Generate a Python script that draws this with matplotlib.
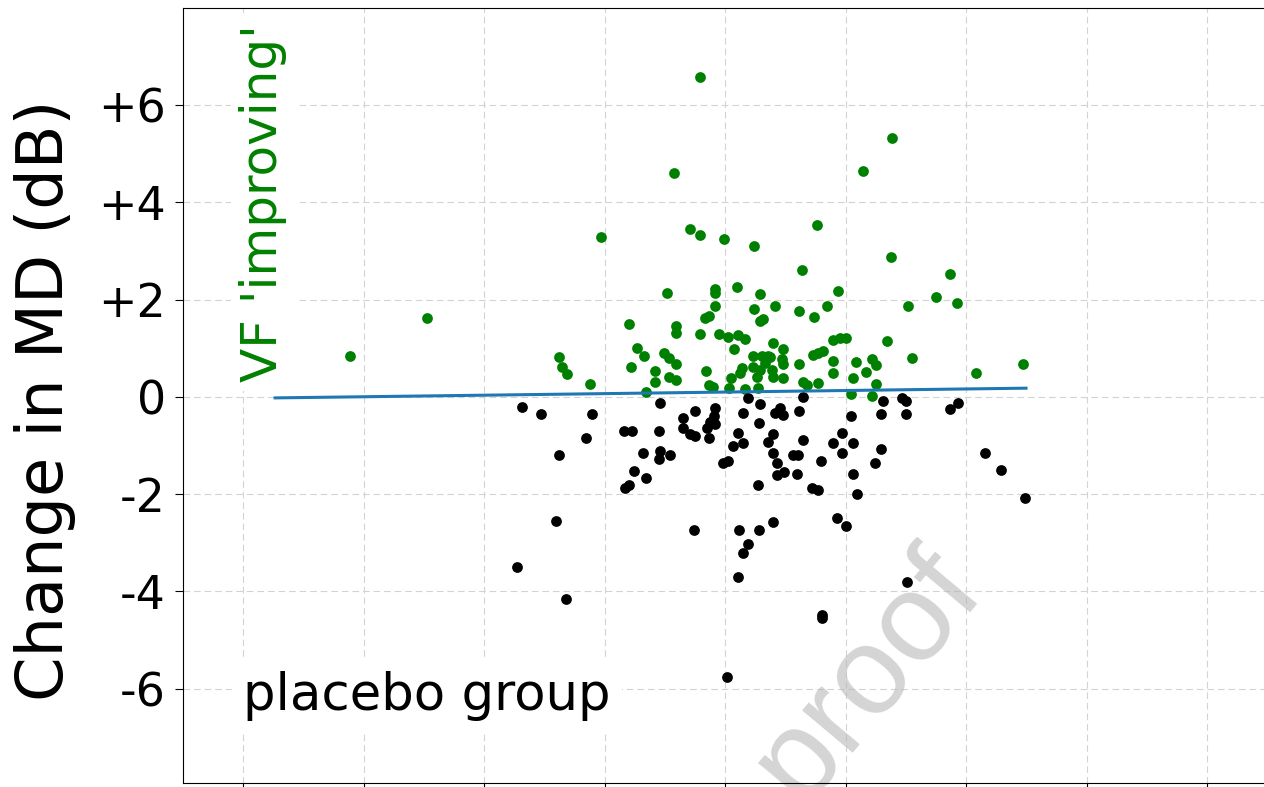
import numpy as np
import matplotlib
matplotlib.use("Agg")
import matplotlib.pyplot as plt

# change in MD for eyes that got better (green) - x, y
improving_x = [8.88, 15.27, 26.22, 26.47, 26.89, 28.80, 29.71, 32.03, 32.70, 33.28,
               32.20, 33.44, 34.19, 34.19, 34.94, 35.35, 35.93, 35.35, 35.93, 35.19,
               35.77, 35.93, 35.93, 37.10, 37.93, 37.93, 37.93, 38.42, 38.34, 38.67,
               38.67, 39.00, 39.17, 39.17, 39.17, 39.50, 39.92, 40.25, 41.08, 41.66,
               40.75, 41.00, 41.41, 41.24, 40.50, 40.33, 41.66, 42.41, 42.90, 42.41,
               44.15, 42.90, 43.15, 42.32, 43.07, 43.57, 42.32, 42.90, 43.32, 43.90,
               42.66, 43.98, 42.74, 43.98, 44.81, 44.73, 44.81, 43.73, 44.81, 46.14,
               46.39, 47.39, 47.63, 48.46, 49.38, 46.14, 46.47, 46.80, 47.72, 47.30,
               47.72, 48.13, 48.96, 49.54, 50.04, 48.96, 48.96, 50.46, 50.62, 50.87,
               51.45, 51.70, 52.20, 52.53, 52.20, 52.53, 53.44, 53.78, 53.86, 55.19,
               55.52, 57.51, 58.67, 59.25, 60.83, 64.73]
improving_y = [0.84, 1.62, 0.82, 0.62, 0.47, 0.27, 3.29, 1.50, 1.01, 0.84,
               0.62, 0.10, 0.53, 0.31, 0.90, 0.80, 0.68, 0.41, 0.35, 2.14,
               4.60, 1.46, 1.31, 3.45, 3.33, 6.59, 1.29, 0.53, 1.62, 1.66,
               0.25, 0.21, 2.22, 2.14, 1.87, 1.29, 3.24, 1.23, 1.27, 1.19,
               0.99, 2.26, 0.60, 0.49, 0.39, 0.18, 0.16, 3.10, 2.11, 1.81,
               1.87, 1.56, 1.60, 0.84, 0.84, 0.84, 0.62, 0.55, 0.70, 0.55,
               0.41, 0.41, 0.18, 1.11, 0.99, 0.78, 0.68, 0.82, 0.39, 1.77,
               2.61, 1.64, 3.53, 1.87, 2.18, 0.68, 0.31, 0.25, 0.29, 0.86,
               0.90, 0.94, 1.17, 1.21, 1.21, 0.74, 0.49, 0.06, 0.39, 0.72,
               4.64, 0.51, 0.78, 0.66, 0.02, 0.27, 1.15, 2.87, 5.32, 1.87,
               0.80, 2.05, 2.53, 1.93, 0.49, 0.68]

# eyes that got worse (black)
worsening_x = [23.15, 24.73, 28.96, 28.46, 26.22, 25.98, 22.74, 26.80, 34.61, 31.62,
               32.28, 34.52, 33.20, 34.61, 34.52, 35.44, 32.45, 33.44, 31.70, 32.03,
               36.51, 37.51, 39.17, 39.09, 38.76, 39.17, 36.51, 37.10, 37.51, 38.51,
               38.67, 41.91, 41.49, 42.90, 42.82, 44.15, 41.08, 40.66, 41.49, 39.83,
               40.25, 43.57, 43.98, 43.98, 44.32, 44.32, 42.74, 37.43, 41.16, 42.82,
               43.98, 41.91, 41.49, 41.08, 40.17, 44.56, 44.81, 46.14, 46.47, 46.47,
               45.64, 46.06, 44.90, 45.98, 47.97, 47.22, 47.72, 50.46, 49.71, 48.96,
               50.62, 49.71, 50.62, 50.95, 53.11, 54.69, 55.02, 52.95, 55.02, 52.95,
               52.45, 58.67, 59.34, 61.58, 62.90, 64.90, 49.29, 50.04, 55.10, 48.05,
               48.05]
worsening_y = [-0.21, -0.35, -0.35, -0.84, -1.19, -2.55, -3.49, -4.15, -0.12, -0.70,
               -0.70, -0.70, -1.15, -1.11, -1.27, -1.19, -1.52, -1.66, -1.87, -1.81,
               -0.43, -0.29, -0.23, -0.39, -0.51, -0.55, -0.64, -0.76, -0.80, -0.64,
               -0.84, -0.02, -0.33, -0.14, -0.53, -0.33, -0.74, -1.01, -0.94, -1.36,
               -1.31, -0.92, -0.76, -1.15, -1.36, -1.60, -1.81, -2.73, -2.73, -2.73,
               -2.57, -3.02, -3.22, -3.70, -5.75, -0.23, -0.37, -0.29, 0.00, -0.88,
               -1.19, -1.19, -1.54, -1.58, -1.31, -1.87, -1.91, -0.39, -0.74, -0.94,
               -0.94, -1.15, -1.58, -1.99, -0.08, -0.02, -0.08, -0.35, -0.35, -1.07,
               -1.36, -0.25, -0.12, -1.15, -1.50, -2.07, -2.48, -2.65, -3.80, -4.48,
               -4.54]

# fitted trend line end points
trend_x = [2.66, 64.98]
trend_y = [-0.02, 0.18]

y_ticks = [-6, -4, -2, 0, 2, 4, 6]
y_tick_labels = ['-6', '-4', '-2', '0', '+2', '+4', '+6']
x_ticks = [0, 10, 20, 30, 40, 50, 60, 70, 80]

fig = plt.figure(figsize=(12.64, 7.87), dpi=100)
ax = fig.add_axes([0.1446, 0.0051, 0.858, 0.9848])

ax.grid(True, color='#d3d3d3', linewidth=0.8, dashes=(6, 3.5), zorder=0)
ax.set_axisbelow(True)

ax.scatter(improving_x, improving_y, s=60, color='green', linewidths=0, zorder=3)
ax.scatter(worsening_x, worsening_y, s=60, color='black', linewidths=0, zorder=3)
ax.plot(trend_x, trend_y, color='#1f77b4', linewidth=2.2, zorder=4)

ax.set_xlim(-5, 85)
ax.set_ylim(-7.94, 8.0)
ax.set_xticks(x_ticks)
ax.set_yticks(y_ticks)
ax.set_yticklabels(y_tick_labels)
ax.tick_params(axis='y', labelsize=33, length=6, pad=6)
ax.tick_params(axis='x', length=6, labelbottom=False)

ax.set_ylabel('Change in MD (dB)', fontsize=46)
ax.yaxis.set_label_coords(-0.098, 0.494)

ax.text(-0.3, 0.3, "VF 'improving'", rotation=90, color='green', fontsize=36,
        ha='left', va='bottom',
        bbox=dict(facecolor='white', edgecolor='none', pad=6), zorder=5)
ax.text(0.0, -6.15, 'placebo group', fontsize=37, ha='left', va='center',
        bbox=dict(facecolor='white', edgecolor='none', pad=8), zorder=5)

# watermark
ax.text(0.632, 0.138, 'proof', transform=ax.transAxes, rotation=50,
        fontsize=90, family='Liberation Sans', color='#b8b8b8', alpha=0.6,
        ha='center', va='center', zorder=1)

fig.savefig('out.png', dpi=100)
